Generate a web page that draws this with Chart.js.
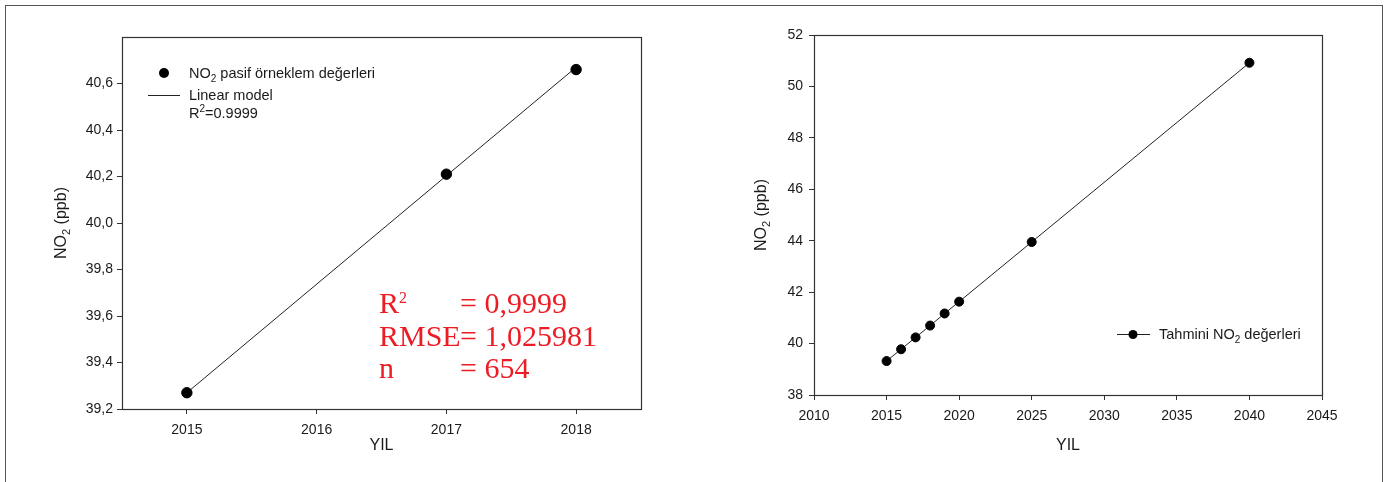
<!DOCTYPE html>
<html>
<head>
<meta charset="utf-8">
<script src="https://cdn.jsdelivr.net/npm/chart.js@4.4.1/dist/chart.umd.min.js"></script>
<style>
  html, body { margin: 0; padding: 0; background: #fff; }
  #page { position: relative; width: 1387px; height: 482px; overflow: hidden; background: #fff; }
  #frame { position: absolute; left: 5px; top: 5px; width: 1378px; height: 520px; border: 1px solid #555; box-sizing: border-box; }
  canvas.panel { position: absolute; top: 0; }
</style>
</head>
<body>
<div id="page">
  <div id="frame"></div>
  <canvas id="measured" class="panel" width="700" height="482" style="left:0px"></canvas>
  <canvas id="forecast" class="panel" width="687" height="482" style="left:700px"></canvas>
</div>
<script>
// Passive-sampler NO2 means (ppb) and the fitted linear model
const measuredYears = [2015, 2017, 2018];
const measuredNO2 = [39.27, 40.21, 40.66];
const modelYears = [2015, 2018];
const modelNO2 = [39.27, 40.67];

// Forecast NO2 values (ppb)
const forecastYears = [2015, 2016, 2017, 2018, 2019, 2020, 2025, 2040];
const forecastNO2 = [39.32, 39.78, 40.24, 40.70, 41.17, 41.63, 43.95, 50.92];

// Axis ticks
const measuredXTicks = [2015, 2016, 2017, 2018];
const measuredYTicks = [39.2, 39.4, 39.6, 39.8, 40.0, 40.2, 40.4, 40.6];
const forecastXTicks = [2010, 2015, 2020, 2025, 2030, 2035, 2040, 2045];
const forecastYTicks = [38, 40, 42, 44, 46, 48, 50, 52];

// Fit statistics shown in red
const statNames = [['R', '2'], ['RMSE', ''], ['n', '']];
const statValues = ['= 0,9999', '= 1,025981', '= 654'];

const SANS = "'Liberation Sans', Arial, Helvetica, sans-serif";
const SERIF = "'Liberation Serif', 'Times New Roman', serif";
const INK = '#1a1a1a';
const AXIS = '#333';

// Draws text made of runs, some of them sub- or superscript; y is the baseline.
// opts.scale = size factor of the small runs, opts.sup / opts.sub = baseline shifts (in em).
function drawRich(ctx, parts, x, y, size, color, align, family, opts) {
  const o = Object.assign({ scale: 0.66, sup: -0.38, sub: 0.25 }, opts || {});
  ctx.save();
  ctx.fillStyle = color;
  ctx.textBaseline = 'alphabetic';
  ctx.textAlign = 'left';
  const fonts = parts.map(p => (p[1] ? Math.round(size * o.scale) : size) + 'px ' + family);
  const widths = parts.map((p, i) => { ctx.font = fonts[i]; return ctx.measureText(p[0]).width; });
  const total = widths.reduce((a, b) => a + b, 0);
  let cx = align === 'center' ? x - total / 2 : (align === 'right' ? x - total : x);
  parts.forEach((p, i) => {
    ctx.font = fonts[i];
    const dy = p[1] === 'sub' ? size * o.sub : (p[1] === 'sup' ? size * o.sup : 0);
    ctx.fillText(p[0], cx, y + dy);
    cx += widths[i];
  });
  ctx.restore();
}

function fixSize(size) {
  return scale => { if (scale.isHorizontal()) scale.height = size; else scale.width = size; };
}
function useTicks(values) {
  return scale => { scale.ticks = values.map(v => ({ value: v })); };
}

// Frame around the plotting area
const frameBox = {
  id: 'frameBox',
  beforeDatasetsDraw(chart) {
    const a = chart.chartArea, ctx = chart.ctx;
    ctx.save();
    ctx.strokeStyle = AXIS;
    ctx.lineWidth = 1.2;
    ctx.strokeRect(Math.round(a.left) + 0.5, Math.round(a.top) + 0.5,
                   Math.round(a.right - a.left), Math.round(a.bottom - a.top));
    ctx.restore();
  }
};

// Rotated y-axis title with subscript
function yTitle(x, y) {
  return {
    id: 'yTitle',
    afterDraw(chart) {
      const ctx = chart.ctx;
      ctx.save();
      ctx.translate(x, y);
      ctx.rotate(-Math.PI / 2);
      drawRich(ctx, [['NO'], ['2', 'sub'], [' (ppb)']], 0, 6, 16, INK, 'center', SANS);
      ctx.restore();
    }
  };
}

function xScale(min, max, ticks, height) {
  return {
    type: 'linear', min: min, max: max,
    afterBuildTicks: useTicks(ticks),
    afterFit: fixSize(height),
    border: { display: false },
    grid: { drawOnChartArea: false, drawTicks: true, tickLength: 5, color: AXIS, lineWidth: 1 },
    ticks: { color: INK, font: { family: SANS, size: 14 }, padding: 8, callback: v => String(v) },
    title: { display: true, text: 'YIL', color: INK, font: { family: SANS, size: 16 }, padding: { top: 0, bottom: 27 } }
  };
}
function yScale(min, max, ticks, width, fmt, pad) {
  return {
    type: 'linear', min: min, max: max,
    afterBuildTicks: useTicks(ticks),
    afterFit: fixSize(width),
    border: { display: false },
    grid: { drawOnChartArea: false, drawTicks: true, tickLength: 5, color: AXIS, lineWidth: 1 },
    ticks: { color: INK, font: { family: SANS, size: 14 }, padding: pad, callback: fmt }
  };
}

// Left panel: measured values, linear model, legend and fit statistics
const measuredLegend = {
  id: 'measuredLegend',
  afterDraw(chart) {
    const ctx = chart.ctx;
    ctx.save();
    ctx.fillStyle = '#000';
    ctx.beginPath(); ctx.arc(164, 73, 5, 0, Math.PI * 2); ctx.fill();
    ctx.strokeStyle = '#222'; ctx.lineWidth = 1;
    ctx.beginPath(); ctx.moveTo(148, 95.5); ctx.lineTo(180, 95.5); ctx.stroke();
    ctx.restore();
    drawRich(ctx, [['NO'], ['2', 'sub'], [' pasif örneklem değerleri']], 189, 78, 14.5, INK, 'left', SANS);
    drawRich(ctx, [['Linear model']], 189, 100, 14.5, INK, 'left', SANS);
    drawRich(ctx, [['R'], ['2', 'sup'], ['=0.9999']], 189, 118, 14.5, INK, 'left', SANS);

    const red = '#ec1c24';
    statNames.forEach((nm, i) => {
      const base = 313 + i * 32.5;
      const parts = [[nm[0]]];
      if (nm[1]) parts.push([nm[1], 'sup']);
      drawRich(ctx, parts, 379, base, 30, red, 'left', SERIF, { scale: 0.52, sup: -0.33 });
      drawRich(ctx, [[statValues[i]]], 460, base, 30, red, 'left', SERIF);
    });
  }
};

new Chart(document.getElementById('measured'), {
  type: 'scatter',
  data: {
    datasets: [
      {
        type: 'line',
        data: modelYears.map((x, i) => ({ x: x, y: modelNO2[i] })),
        borderColor: '#222', borderWidth: 1, pointRadius: 0, fill: false, order: 2
      },
      {
        data: measuredYears.map((x, i) => ({ x: x, y: measuredNO2[i] })),
        backgroundColor: '#000', borderColor: '#000', pointRadius: 5.2, pointHoverRadius: 5.2, order: 1
      }
    ]
  },
  options: {
    responsive: false, animation: false,
    layout: { padding: { left: 0, top: 37, right: 59, bottom: 0 } },
    plugins: { legend: { display: false }, tooltip: { enabled: false } },
    scales: {
      x: xScale(2014.5, 2018.5, measuredXTicks, 73),
      y: yScale(39.2, 40.8, measuredYTicks, 122, v => v.toFixed(1).replace('.', ','), 4)
    }
  },
  plugins: [frameBox, yTitle(60, 223), measuredLegend]
});

// Right panel: forecast series
const forecastLegend = {
  id: 'forecastLegend',
  afterDraw(chart) {
    const ctx = chart.ctx;
    ctx.save();
    ctx.strokeStyle = '#222'; ctx.lineWidth = 1;
    ctx.beginPath(); ctx.moveTo(417, 334.5); ctx.lineTo(450, 334.5); ctx.stroke();
    ctx.fillStyle = '#000';
    ctx.beginPath(); ctx.arc(433, 334.5, 4.5, 0, Math.PI * 2); ctx.fill();
    ctx.restore();
    drawRich(ctx, [['Tahmini NO'], ['2', 'sub'], [' değerleri']], 459, 339, 14.5, INK, 'left', SANS);
  }
};

new Chart(document.getElementById('forecast'), {
  type: 'scatter',
  data: {
    datasets: [{
      data: forecastYears.map((x, i) => ({ x: x, y: forecastNO2[i] })),
      showLine: true, borderColor: '#222', borderWidth: 1,
      backgroundColor: '#000', pointBorderColor: '#000', pointRadius: 4.5, pointHoverRadius: 4.5
    }]
  },
  options: {
    responsive: false, animation: false,
    layout: { padding: { left: 0, top: 35, right: 65, bottom: 0 } },
    plugins: { legend: { display: false }, tooltip: { enabled: false } },
    scales: {
      x: xScale(2010, 2045, forecastXTicks, 87),
      y: yScale(38, 52, forecastYTicks, 114, v => String(v), 6)
    }
  },
  plugins: [frameBox, yTitle(60, 215), forecastLegend]
});
</script>
</body>
</html>
